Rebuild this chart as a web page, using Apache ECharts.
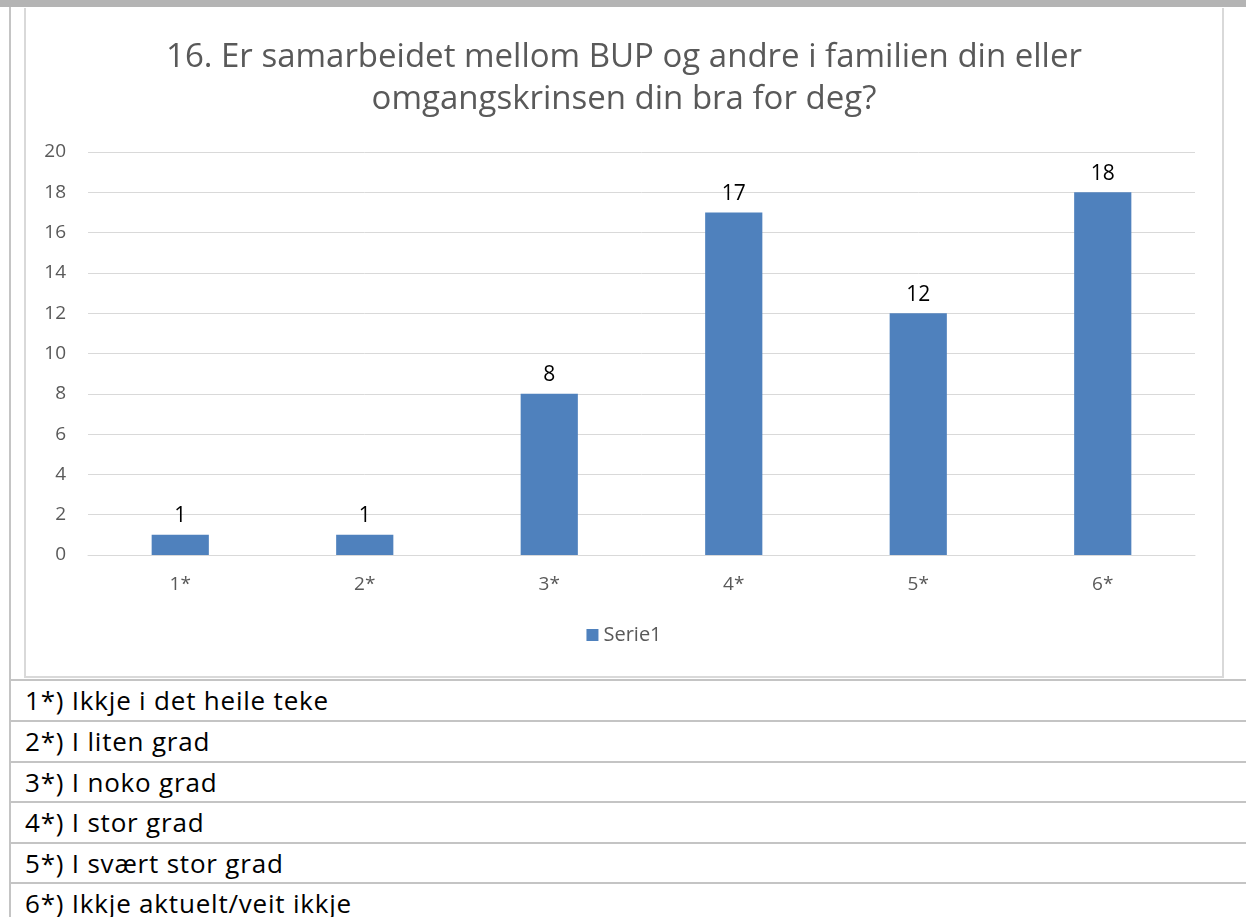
<!DOCTYPE html>
<html>
<head>
<meta charset="utf-8">
<script src="https://cdn.jsdelivr.net/npm/echarts@6/dist/echarts.min.js"></script>
<style>
  body { margin: 0; width: 1246px; height: 917px; background: #fff; position: relative; overflow: hidden; font-family: "Open Sans", sans-serif; }
  #topbar { position: absolute; left: 0; top: 0; width: 1246px; height: 7px; background: #b4b4b4; }
  #leftline { position: absolute; left: 9px; top: 7px; width: 2px; height: 910px; background: #c4c4c4; }
  #chart { position: absolute; left: 24px; top: 8px; width: 1200px; height: 670px; box-sizing: border-box; border: 2px solid #d9d9d9; border-top: none; }
  .row { position: absolute; left: 10px; width: 1236px; height: 40px; border-top: 2px solid #c4c4c4; font-size: 26px; letter-spacing: 0.8px; color: #000; line-height: 38px; padding-left: 15px; box-sizing: border-box; }
</style>
</head>
<body>
<div id="topbar"></div>
<div id="leftline"></div>
<div id="chart"></div>
<div id="rows"></div>
<script>
const titleText = "16. Er samarbeidet mellom BUP og andre i familien din eller\nomgangskrinsen din bra for deg?";
const categories = ["1*", "2*", "3*", "4*", "5*", "6*"];
const serie1 = [1, 1, 8, 17, 12, 18];
const notes = [
  "1*) Ikkje i det heile teke",
  "2*) I liten grad",
  "3*) I noko grad",
  "4*) I stor grad",
  "5*) I svært stor grad",
  "6*) Ikkje aktuelt/veit ikkje"
];

// table of explanations under the chart
const rowTops = [679, 720, 761, 801, 842, 882];
const rowsEl = document.getElementById("rows");
notes.forEach((t, i) => {
  const d = document.createElement("div");
  d.className = "row";
  d.style.top = rowTops[i] + "px";
  d.textContent = t;
  rowsEl.appendChild(d);
});

const chart = echarts.init(document.getElementById("chart"));
chart.setOption({
  animation: false,
  textStyle: { fontFamily: "'Open Sans', sans-serif" },
  title: {
    text: titleText,
    left: "center",
    top: 24,
    textStyle: { fontSize: 33, fontWeight: "normal", color: "#595959", lineHeight: 42 }
  },
  legend: {
    data: ["Serie1"],
    bottom: 26,
    left: "center",
    icon: "rect",
    itemWidth: 12,
    itemHeight: 12,
    itemGap: 6,
    textStyle: { fontSize: 20, color: "#595959" }
  },
  grid: { left: 62, right: 27, top: 144, bottom: 121 },
  xAxis: {
    type: "category",
    data: categories,
    axisLine: { lineStyle: { color: "#d9d9d9", width: 1 } },
    axisTick: { show: false },
    axisLabel: { fontSize: 19, color: "#595959", margin: 20 }
  },
  yAxis: {
    type: "value",
    min: 0,
    max: 20,
    interval: 2,
    axisLine: { show: false },
    axisTick: { show: false },
    splitLine: { lineStyle: { color: "#d9d9d9", width: 1 } },
    axisLabel: { fontSize: 19, color: "#595959", margin: 22 }
  },
  series: [{
    name: "Serie1",
    type: "bar",
    data: serie1,
    barWidth: "31%",
    itemStyle: { color: "#4f81bd" },
    label: { show: true, position: "top", distance: 8, fontSize: 21, color: "#000" }
  }]
});
</script>
</body>
</html>
